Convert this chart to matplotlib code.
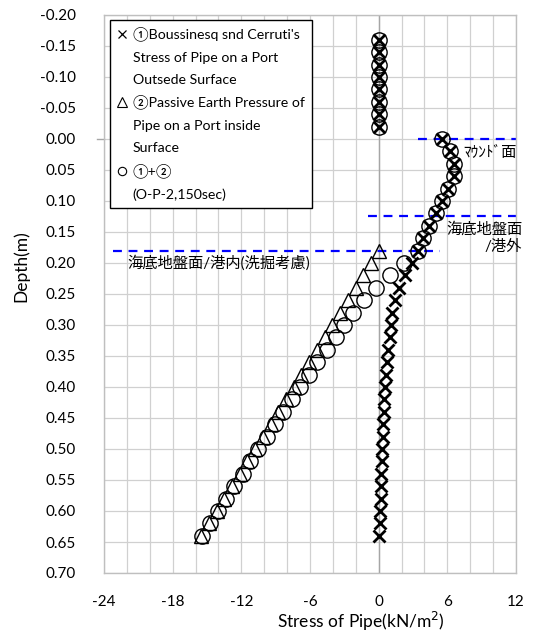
import matplotlib

matplotlib.use("Agg")
import matplotlib.pyplot as plt
from matplotlib.lines import Line2D

plt.rcParams["font.family"] = ["Lato", "Noto Sans CJK JP", "DejaVu Sans"]
plt.rcParams["axes.unicode_minus"] = False

# ---- data ----
# ① Boussinesq & Cerruti (x marks)
depth_1 = [-0.16, -0.14, -0.12, -0.10, -0.08, -0.06, -0.04, -0.02,
           0.00, 0.02, 0.04, 0.06, 0.08, 0.10, 0.12, 0.14, 0.16, 0.18,
           0.20, 0.22, 0.24, 0.26, 0.28, 0.30, 0.32, 0.34, 0.36, 0.38,
           0.40, 0.42, 0.44, 0.46, 0.48, 0.50, 0.52, 0.54, 0.56, 0.58,
           0.60, 0.62, 0.64]
stress_1 = [0, 0, 0, 0, 0, 0, 0, 0,
            5.5, 6.2, 6.6, 6.6, 6.1, 5.5, 5.0, 4.4, 3.9, 3.4,
            2.9, 2.3, 1.8, 1.45, 1.2, 1.05, 0.95, 0.85, 0.75, 0.65,
            0.55, 0.5, 0.45, 0.4, 0.35, 0.3, 0.27, 0.24, 0.2, 0.17,
            0.14, 0.1, 0.0]

# ② Passive earth pressure (triangles)
depth_2 = [0.18, 0.20, 0.22, 0.24, 0.26, 0.28, 0.30, 0.32, 0.34, 0.36,
           0.38, 0.40, 0.42, 0.44, 0.46, 0.48, 0.50, 0.52, 0.54, 0.56,
           0.58, 0.60, 0.62, 0.64]
stress_2 = [0.0, -0.7, -1.35, -2.0, -2.7, -3.4, -4.05, -4.7, -5.4, -6.1,
            -6.75, -7.4, -8.1, -8.8, -9.45, -10.1, -10.8, -11.5, -12.1, -12.8,
            -13.5, -14.15, -14.8, -15.5]

# ①+② (circles)
depth_3 = depth_1
stress_3 = [0, 0, 0, 0, 0, 0, 0, 0,
            5.5, 6.2, 6.6, 6.6, 6.1, 5.5, 5.0, 4.4, 3.9, 3.4,
            2.2, 0.95, -0.2, -1.25, -2.2, -3.0, -3.75, -4.55, -5.35, -6.1,
            -6.85, -7.6, -8.35, -9.05, -9.75, -10.5, -11.2, -11.85, -12.6, -13.3,
            -14.0, -14.7, -15.45]

# reference levels: (depth, x from, x to)
level_depth = [0.00, 0.125, 0.18]
level_x0 = [3.4, -0.9, -23.2]
level_x1 = [12.0, 12.0, 5.4]

legend_lines = [
    "①Boussinesq snd Cerruti's", "Stress of Pipe on a Port", "Outsede Surface",
    "②Passive Earth Pressure of", "Pipe on a Port inside", "Surface",
    "①+②", "(O-P-2,150sec)",
]

# ---- figure ----
fig = plt.figure(figsize=(5.33, 6.32), dpi=100)
ax = fig.add_axes([104 / 533, 1 - 573 / 632, 412 / 533, 558 / 632])

ax.set_xlim(-24, 12)
ax.set_ylim(0.70, -0.20)

# grid
for gx in range(-24, 13, 2):
    ax.axvline(gx, color="#d0d0d0", lw=0.9, zorder=0)
for i in range(19):
    ax.axhline(-0.20 + 0.05 * i, color="#d0d0d0", lw=0.9, zorder=0)
ax.axvline(0, color="#a6a6a6", lw=1.0, zorder=1)
ax.plot([-24.6, -24], [0, 0], color="#a6a6a6", lw=1.0, clip_on=False)

for sp in ax.spines.values():
    sp.set_color("#bfbfbf")
    sp.set_linewidth(1.0)

ax.set_xticks(range(-24, 13, 6))
ax.set_yticks([-0.20 + 0.05 * i for i in range(19)])
ax.set_yticklabels([f"{-0.20 + 0.05 * i:.2f}".replace("-0.00", "0.00") for i in range(19)])
ax.tick_params(axis="both", length=0, labelsize=11, colors="black")
ax.tick_params(axis="x", pad=16)
ax.tick_params(axis="y", pad=20)

ax.set_xlabel("Stress of Pipe(kN/m$^2$)", fontsize=12.5)
ax.xaxis.set_label_coords(0.624, -0.067)
ax.set_ylabel("Depth(m)", fontsize=12.5)
ax.yaxis.set_label_coords(-0.18, 0.55)

# dashed reference lines
for d, a, b in zip(level_depth, level_x0, level_x1):
    ax.plot([a, b], [d, d], color="#0000ff", lw=1.6, ls=(0, (4, 3)), zorder=2)

# series
ax.plot(stress_2, depth_2, ls="none", marker="^", ms=10.5, mfc="none",
        mec="black", mew=1.0, zorder=3)
ax.plot(stress_3, depth_3, ls="none", marker="o", ms=11, mfc="none",
        mec="black", mew=1.0, zorder=4)
ax.plot(stress_1, depth_1, ls="none", marker="x", ms=8.5, mec="black",
        mew=2.0, zorder=5)

# annotations
ax.text(7.4, 0.023, "ﾏｳﾝﾄﾞ面", fontsize=11, ha="left", va="center")
ax.text(12.55, 0.159, "海底地盤面\n/港外", fontsize=11, ha="right", va="center",
        multialignment="right", linespacing=1.3)
ax.text(-22.0, 0.20, "海底地盤面/港内(洗掘考慮)", fontsize=11, ha="left",
        va="center")

# legend: one entry per text line, marker only on the first line of each item
blank = Line2D([], [], ls="none")
handles = [
    Line2D([], [], ls="none", marker="x", ms=6, mec="black", mew=0.9), blank, blank,
    Line2D([], [], ls="none", marker="^", ms=7, mfc="none", mec="black", mew=0.8), blank, blank,
    Line2D([], [], ls="none", marker="o", ms=6, mfc="none", mec="black", mew=0.8), blank,
]
leg = ax.legend(handles, legend_lines, loc="upper left", bbox_to_anchor=(0.015, 0.991),
                fontsize=10.2, frameon=True, fancybox=False, handlelength=0.7,
                handletextpad=0.4, borderpad=0.5, labelspacing=0.7,
                borderaxespad=0)
leg.get_frame().set_edgecolor("black")
leg.get_frame().set_linewidth(1.0)
leg.get_frame().set_alpha(1.0)

fig.savefig("out.png", dpi=100)
